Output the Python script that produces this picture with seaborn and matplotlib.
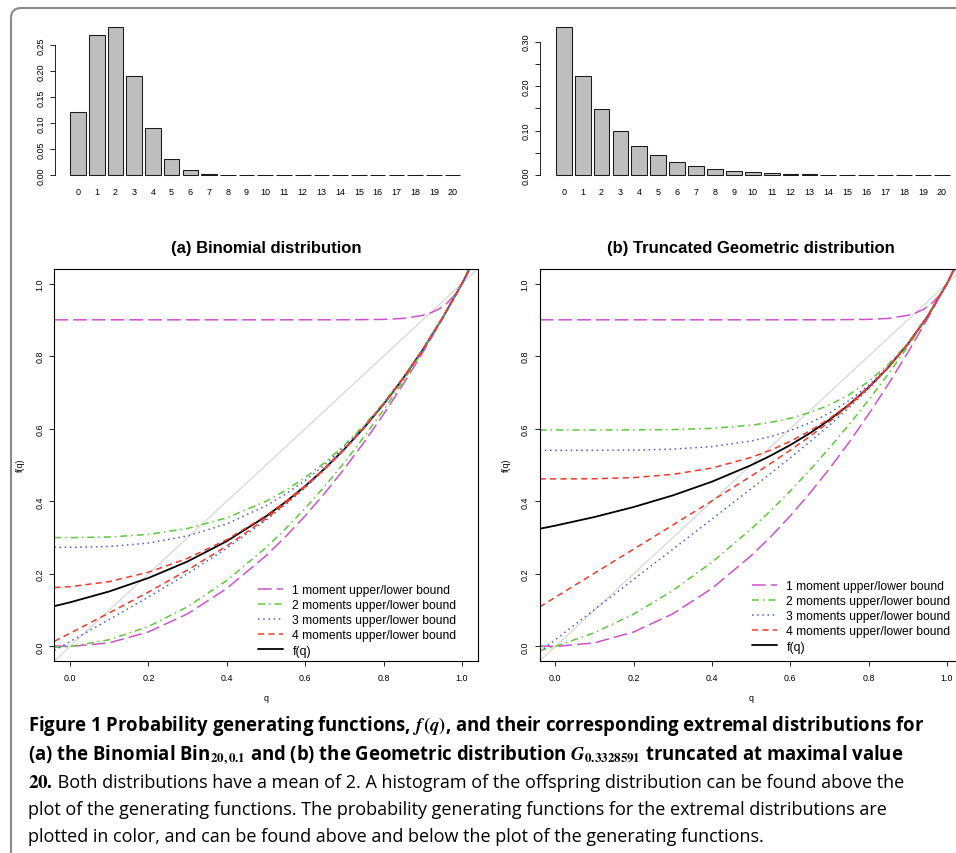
import matplotlib
matplotlib.use("Agg")
import matplotlib.pyplot as plt
import seaborn as sns
from matplotlib.lines import Line2D
from matplotlib.patches import FancyBboxPatch
from matplotlib.transforms import IdentityTransform

W, H = 956, 854

# offspring distributions (bar heights)
offspring = list(range(21))
binom_pmf = [0.1216, 0.2702, 0.2852, 0.1901, 0.0898, 0.0319, 0.0089, 0.0020,
             0.0004, 0.0001, 0.0, 0.0, 0.0, 0.0, 0.0, 0.0, 0.0, 0.0, 0.0, 0.0, 0.0]
geom_pmf = [0.3329, 0.2221, 0.1482, 0.0989, 0.0659, 0.0440, 0.0294, 0.0196,
            0.0131, 0.0087, 0.0058, 0.0039, 0.0026, 0.0017, 0.0012, 0.0008,
            0.0005, 0.0003, 0.0002, 0.0002, 0.0001]
binom_yticks = [0.0, 0.05, 0.10, 0.15, 0.20, 0.25]
binom_ylabels = ["0.00", "0.05", "0.10", "0.15", "0.20", "0.25"]
geom_yticks = [0.0, 0.05, 0.10, 0.15, 0.20, 0.25, 0.30]
geom_ylabels = ["0.00", "", "0.10", "", "0.20", "", "0.30"]

q = [-0.04, 0.0, 0.1, 0.2, 0.3, 0.4, 0.5, 0.55, 0.6, 0.65, 0.7, 0.75, 0.8,
     0.85, 0.9, 0.95, 1.0, 1.04]
diag_q = [-0.04, 1.04]

# 1 moment bounds are the same in both panels
u1_q = [-0.04, 0.0, 0.5, 0.7, 0.8, 0.85, 0.9, 0.92, 0.94, 0.96, 0.98, 1.0, 1.02]
m1_upper = [0.9, 0.9, 0.9, 0.9001, 0.9012, 0.9039, 0.9122, 0.9189, 0.9290,
            0.9442, 0.9668, 1.0, 1.0486]
m1_lower = [0.0016, 0.0, 0.01, 0.04, 0.09, 0.16, 0.25, 0.3025, 0.36, 0.4225,
            0.49, 0.5625, 0.64, 0.7225, 0.81, 0.9025, 1.0, 1.0816]

# (a) binomial
binom_f = [0.1112, 0.1216, 0.1516, 0.1887, 0.2342, 0.2901, 0.3585, 0.3982,
           0.4420, 0.4904, 0.5438, 0.6027, 0.6676, 0.7391, 0.8179, 0.9046, 1.0, 1.0831]
binom_m2_upper = [0.3001, 0.3, 0.3016, 0.3088, 0.3252, 0.3544, 0.4, 0.4301, 0.4656,
                  0.5070, 0.5548, 0.6094, 0.6712, 0.7407, 0.8184, 0.9047, 1.0, 1.0831]
binom_m2_lower = [-0.0023, 0.0, 0.0185, 0.0549, 0.1094, 0.1819, 0.2724, 0.3244, 0.3808,
                  0.4418, 0.5073, 0.5773, 0.6519, 0.7310, 0.8149, 0.9041, 1.0, 1.0835]
binom_m3_upper = [0.2733, 0.273, 0.2754, 0.2849, 0.3046, 0.3377, 0.3876, 0.4197, 0.4573,
                  0.5006, 0.5501, 0.6062, 0.6693, 0.7398, 0.8181, 0.9046, 1.0, 1.0831]
binom_m3_lower = [-0.0109, 0.0133, 0.0742, 0.1361, 0.2008, 0.2706, 0.3483, 0.3913, 0.4375,
                  0.4877, 0.5423, 0.6019, 0.6673, 0.7390, 0.8179, 0.9046, 1.0, 1.0831]
binom_m4_upper = [0.1624, 0.1647, 0.1787, 0.2046, 0.2429, 0.2943, 0.3603, 0.3993, 0.4426,
                  0.4907, 0.5440, 0.6028, 0.6676, 0.7391, 0.8179, 0.9046, 1.0, 1.0831]
binom_m4_lower = [0.0141, 0.0364, 0.0924, 0.1499, 0.2106, 0.2770, 0.3521, 0.3940, 0.4394,
                  0.4889, 0.5430, 0.6023, 0.6675, 0.7391, 0.8179, 0.9046, 1.0, 1.0831]

# (b) truncated geometric
geom_f = [0.3243, 0.3329, 0.3567, 0.3842, 0.4162, 0.4541, 0.4996, 0.5259, 0.5551,
          0.5878, 0.6246, 0.6663, 0.7140, 0.7690, 0.8332, 0.9090, 1.0, 1.0869]
geom_m2_upper = [0.5966, 0.5966, 0.5966, 0.5967, 0.5977, 0.6010, 0.6097, 0.6176, 0.6288,
                 0.6445, 0.6656, 0.6937, 0.7302, 0.7769, 0.8359, 0.9094, 1.0, 1.0866]
geom_m2_lower = [-0.0114, 0.0, 0.0379, 0.0893, 0.1540, 0.2322, 0.3237, 0.3745, 0.4287,
                 0.4862, 0.5471, 0.6113, 0.6791, 0.7504, 0.8262, 0.9079, 1.0, 1.0879]
geom_m3_upper = [0.5404, 0.5404, 0.5404, 0.5410, 0.5436, 0.5507, 0.5661, 0.5784, 0.5949,
                 0.6162, 0.6434, 0.6775, 0.7197, 0.7713, 0.8338, 0.9091, 1.0, 1.0869]
geom_m3_lower = [-0.0146, 0.0186, 0.1017, 0.1848, 0.2678, 0.3510, 0.4347, 0.4770, 0.5200,
                 0.5640, 0.6097, 0.6579, 0.7100, 0.7675, 0.8328, 0.9090, 1.0, 1.0869]
geom_m4_upper = [0.4616, 0.4617, 0.4621, 0.4653, 0.4742, 0.4917, 0.5209, 0.5409, 0.5651,
                 0.5940, 0.6280, 0.6680, 0.7146, 0.7692, 0.8332, 0.9090, 1.0, 1.0869]
geom_m4_lower = [0.1089, 0.1355, 0.2018, 0.2681, 0.3345, 0.4013, 0.4694, 0.5045, 0.5408,
                 0.5789, 0.6196, 0.6639, 0.7130, 0.7687, 0.8331, 0.9090, 1.0, 1.0869]

legend_labels = ["1 moment upper/lower bound", "2 moments upper/lower bound",
                 "3 moments upper/lower bound", "4 moments upper/lower bound", "f(q)"]
bound_colors = ["#CC52CC", "#5CC83A", "#4A5BD8", "#EE3B2B"]
bound_dashes = [(0, (9, 3.3)), (0, (4.6, 2.6, 1.0, 2.6)), (0, (1.0, 2.4)), (0, (4.0, 2.8))]

sns.set_theme(style="ticks")
plt.rcParams.update({
    "font.family": ["Liberation Sans", "DejaVu Sans"],
    "mathtext.fontset": "stix",
    "text.color": "black", "axes.labelcolor": "black",
    "xtick.color": "black", "ytick.color": "black", "axes.edgecolor": "black",
})
CAP_FONT = ["Open Sans", "DejaVu Sans"]

fig = plt.figure(figsize=(W / 100, H / 100), dpi=100)


def px_axes(x0, y0, x1, y1):
    # box given in image pixels, measured from the top left corner
    return fig.add_axes([x0 / W, 1 - y1 / H, (x1 - x0) / W, (y1 - y0) / H])


def bar_panel(ax, probs, ticks, labels):
    sns.barplot(x=offspring, y=probs, color="#BEBEBE", saturation=1, width=0.833,
                edgecolor="#1a1a1a", linewidth=0.75, errorbar=None, ax=ax)
    top = max(probs)
    ax.set_ylim(-0.04 * top, 1.04 * top)
    ax.set_xlim(-1.25, 21.25)
    ax.set_yticks(ticks)
    ax.set_yticklabels(labels, rotation=90, va="center")
    ax.tick_params(axis="y", length=3.6, width=0.6, labelsize=6.5, pad=3)
    ax.tick_params(axis="x", length=0, labelsize=6.5, pad=4.5)
    ax.set_xlabel("")
    ax.set_ylabel("")
    for s in ["top", "right", "bottom"]:
        ax.spines[s].set_visible(False)
    ax.spines["left"].set_bounds(ticks[0], ticks[-1])
    ax.spines["left"].set_linewidth(0.6)


def pgf_panel(ax, f_vals, bounds, leg_x, leg_y):
    sns.lineplot(x=diag_q, y=diag_q, color="#D3D3D3", linewidth=0.8, ax=ax)
    sns.lineplot(x=q, y=f_vals, color="black", linewidth=1.3, estimator=None,
                 sort=False, legend=False, ax=ax)
    for pair, col, dash in zip(bounds, bound_colors, bound_dashes):
        for xs, ys in pair:
            sns.lineplot(x=xs, y=ys, color=col, linewidth=1.1, linestyle=dash,
                         estimator=None, sort=False, legend=False, ax=ax)
    ax.set_xlim(-0.04, 1.04)
    ax.set_ylim(-0.04, 1.04)
    ticks = [0.0, 0.2, 0.4, 0.6, 0.8, 1.0]
    tick_labels = ["0.0", "0.2", "0.4", "0.6", "0.8", "1.0"]
    ax.set_xticks(ticks)
    ax.set_xticklabels(tick_labels)
    ax.set_yticks(ticks)
    ax.set_yticklabels(tick_labels, rotation=90, va="center")
    ax.tick_params(axis="x", length=3.6, width=0.6, labelsize=6.4, pad=5)
    ax.tick_params(axis="y", length=3.6, width=0.6, labelsize=6.4, pad=3.5)
    for s in ax.spines.values():
        s.set_linewidth(0.8)
    handles = [Line2D([], [], color=c, linestyle=d, linewidth=1.1)
               for c, d in zip(bound_colors, bound_dashes)]
    handles.append(Line2D([], [], color="black", linewidth=1.3))
    ax.legend(handles, legend_labels, loc="upper left",
              bbox_to_anchor=(leg_x / W, 1 - leg_y / H), bbox_transform=fig.transFigure,
              frameon=False, fontsize=8.7, handlelength=2.1, handletextpad=0.75,
              labelspacing=0.26, borderpad=0, borderaxespad=0)


# top row: histograms of the offspring distributions
ax_b1 = px_axes(54.6, 22, 476.0, 182)
bar_panel(ax_b1, binom_pmf, binom_yticks, binom_ylabels)
ax_b2 = px_axes(540.1, 22, 965.4, 182)
bar_panel(ax_b2, geom_pmf, geom_yticks, geom_ylabels)

# bottom row: generating functions
ax_a = px_axes(54.3, 270, 477.7, 662)
pgf_panel(ax_a, binom_f,
          [[(u1_q, m1_upper), (q, m1_lower)],
           [(q, binom_m2_upper), (q, binom_m2_lower)],
           [(q, binom_m3_upper), (q, binom_m3_lower)],
           [(q, binom_m4_upper), (q, binom_m4_lower)]], 258, 585)
ax_g = px_axes(539.6, 270, 962.7, 662)
pgf_panel(ax_g, geom_f,
          [[(u1_q, m1_upper), (q, m1_lower)],
           [(q, geom_m2_upper), (q, geom_m2_lower)],
           [(q, geom_m3_upper), (q, geom_m3_lower)],
           [(q, geom_m4_upper), (q, geom_m4_lower)]], 752, 581)

for cx, title in [(266, "(a) Binomial distribution"), (751, "(b) Truncated Geometric distribution")]:
    fig.text(cx / W, 1 - 249 / H, title, ha="center", va="center", fontsize=12, weight="bold")
    fig.text(cx / W, 1 - 699 / H, "q", ha="center", va="center", fontsize=6.4)
for lx in [20, 506]:
    fig.text(lx / W, 1 - 465 / H, "f(q)", ha="center", va="center", fontsize=6.4, rotation=90)

# figure frame with rounded corner
frame = FancyBboxPatch((11, -40), 1100, 845 + 40, boxstyle="round,pad=0,rounding_size=10",
                       transform=IdentityTransform(), fill=False, ec="#8a8a8a", lw=1.5)
fig.add_artist(frame)

# caption
renderer = fig.canvas.get_renderer()


def fit_width(txt, width_px):
    w = txt.get_window_extent(renderer).width
    txt.set_fontsize(txt.get_fontsize() * width_px / w)
    return txt.get_fontsize()


cap1 = (r"Figure 1 Probability generating functions, $\mathbfit{f}\,\mathbf{(}\mathbfit{q}\mathbf{)}$, "
        r"and their corresponding extremal distributions for")
cap2 = (r"(a) the Binomial Bin$_{\mathbf{20,0.1}}$ and (b) the Geometric distribution "
        r"$\mathbfit{G}_{\mathbf{0.3328591}}$ truncated at maximal value")
cap3 = " Both distributions have a mean of 2. A histogram of the offspring distribution can be found above the"
cap4 = "plot of the generating functions. The probability generating functions for the extremal distributions are"
cap5 = "plotted in color, and can be found above and below the plot of the generating functions."

x0 = 28 / W
cap_kw = dict(family=CAP_FONT, va="baseline")
t1 = fig.text(x0, 1 - 731 / H, cap1, fontsize=14, weight="bold", **cap_kw)
size_b = fit_width(t1, 900)
fig.text(x0, 1 - 760 / H, cap2, fontsize=size_b, weight="bold", **cap_kw)
t4 = fig.text(x0, 1 - 815 / H, cap4, fontsize=14, **cap_kw)
size_r = fit_width(t4, 867)
t3a = fig.text(x0, 1 - 788 / H, r"$\mathbf{20.}$", fontsize=size_r * 1.05, va="baseline")
x3 = t3a.get_window_extent(renderer).x1 / W
fig.text(x3, 1 - 788 / H, cap3, fontsize=size_r, **cap_kw)
fig.text(x0, 1 - 842 / H, cap5, fontsize=size_r, **cap_kw)

fig.savefig("out.png", dpi=100)
